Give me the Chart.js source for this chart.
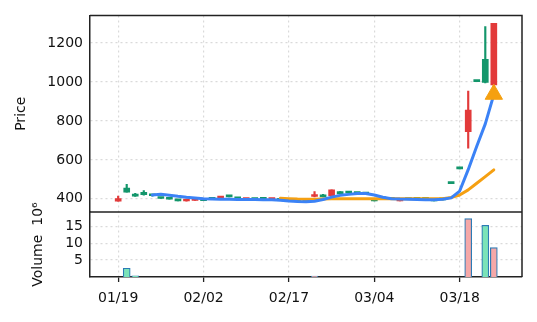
<!DOCTYPE html>
<html>
<head>
<meta charset="utf-8">
<script src="https://cdn.jsdelivr.net/npm/chart.js@4.4.1/dist/chart.umd.min.js"></script>
<style>
  html, body { margin: 0; padding: 0; background: #fff; }
  #wrap { width: 537px; height: 322px; }
</style>
</head>
<body>
<div id="wrap"><canvas id="myChart" width="537" height="322"></canvas></div>
<script>
/////////////////////////////////////////////////////////////
//Data
/////////////////////////////////////////////////////////////
const dates = ['01/19', '01/20', '01/21', '01/22', '01/25', '01/26', '01/27', '01/28', '01/29', '02/01',
    '02/02', '02/03', '02/04', '02/05', '02/08', '02/09', '02/10', '02/11', '02/12', '02/16',
    '02/17', '02/18', '02/19', '02/23', '02/24', '02/25', '02/26', '03/01', '03/02', '03/03',
    '03/04', '03/05', '03/08', '03/09', '03/10', '03/11', '03/12', '03/15', '03/16', '03/17',
    '03/18', '03/19', '03/22', '03/23', '03/24']
const tickDates = ['01/19', '02/02', '02/17', '03/04', '03/18']

const openP = [402, 434, 414, 421, 416, 402, 398, 390, 393, 396,
    391, 398, 408, 410, 400, 398, 396, 397, 399, 392,
    388, 386, 384, 414, 410, 446, 425, 430, 427, 425,
    390, 400, 398, 392, 396, 398, 397, 390, 395, 478,
    554, 856, 1002, 998, 1301]
const highP = [414, 475, 429, 442, 420, 408, 402, 395, 393, 396,
    394, 398, 408, 415, 401, 398, 398, 397, 399, 394,
    388, 386, 386, 437, 423, 446, 437, 433, 427, 425,
    391, 400, 398, 392, 396, 398, 397, 391, 395, 478,
    554, 954, 1002, 1284, 1301]
const lowP = [388, 434, 413, 419, 414, 402, 398, 390, 388, 392,
    391, 398, 404, 410, 400, 396, 396, 397, 396, 392,
    388, 386, 384, 410, 410, 417, 425, 430, 427, 425,
    390, 400, 398, 389, 396, 398, 397, 390, 395, 478,
    554, 660, 1002, 995, 975]
const closeP = [388, 455, 424, 434, 419, 406, 401, 393, 389, 392,
    393, 398, 404, 414, 401, 396, 398, 397, 396, 394,
    388, 386, 386, 412, 417, 417, 437, 432, 427, 425,
    391, 400, 398, 389, 396, 398, 397, 391, 395, 478,
    554, 745, 1002, 1116, 985]
// volume in millions
const volume = [0, 2.6, 0.35, 0, 0, 0, 0, 0, 0, 0,
    0, 0, 0, 0, 0, 0, 0, 0, 0, 0,
    0, 0, 0, 0.3, 0, 0, 0, 0, 0, 0,
    0, 0, 0, 0, 0, 0, 0, 0, 0, 0,
    0, 17.3, 0, 15.3, 8.7]
const ma5 = [null, null, null, null, 420, 424, 419, 413, 408, 404,
    400, 399, 398, 398, 397, 397, 397, 396, 395, 393,
    389, 386, 385, 388, 397, 409, 418, 423, 427, 428,
    420, 408, 401, 399, 398, 397, 396, 396, 398, 405,
    440, 550, 670, 785, 935]
const ma20 = [null, null, null, null, null, null, null, null, null, null,
    null, null, null, null, null, null, null, null, null, 403,
    401, 399, 398, 398, 399, 400, 400, 400, 400, 400,
    400, 400, 400, 400, 400, 400, 400, 400, 401, 407,
    420, 446, 480, 514, 549]
const signal = [null, null, null, null, null, null, null, null, null, null,
    null, null, null, null, null, null, null, null, null, null,
    null, null, null, null, null, null, null, null, null, null,
    null, null, null, null, null, null, null, null, null, null,
    null, null, null, null, 937]

const priceTicks = [400, 600, 800, 1000, 1200]
const volTicks = [5, 10, 15]

/////////////////////////////////////////////////////////////
//Colors
/////////////////////////////////////////////////////////////
const isUp = closeP.map((c, i) => c >= openP[i])
const candleColors = isUp.map(u => u ? '#13966b' : '#e23a3a')
const volFill = isUp.map(u => u ? '#7be3b8' : '#f5a8a8')

const tickFont = {family: 'DejaVu Sans', size: 14}
const gridStyle = {color: '#dadada', lineWidth: 1.2, offset: false}
const borderStyle = {color: '#222', width: 1.5, dash: [2, 3]}

// white background + axes frame and panel separator
const framePlugin = {
    id: 'frame',
    beforeDraw(chart) {
        const ctx = chart.ctx
        ctx.save()
        ctx.fillStyle = '#fff'
        ctx.fillRect(0, 0, chart.width, chart.height)
        ctx.restore()
    },
    afterDraw(chart) {
        const {ctx, chartArea: a, scales} = chart
        ctx.save()
        ctx.strokeStyle = '#222'
        ctx.lineWidth = 1.5
        ctx.beginPath()
        ctx.moveTo(a.left, a.top)
        ctx.lineTo(a.right, a.top)
        ctx.lineTo(a.right, a.bottom)
        ctx.moveTo(a.left, scales.yv.top)
        ctx.lineTo(a.right, scales.yv.top)
        ctx.stroke()
        ctx.restore()
    }
}

const config = {
    type: 'bar',
    data: {
        datasets: [
            {
                type: 'line', label: 'signal',
                data: signal.map((v, i) => ({x: i, y: v})),
                showLine: false, pointStyle: 'triangle', pointRadius: 10,
                backgroundColor: '#f5a010', borderColor: '#f5a010', borderWidth: 1,
                yAxisID: 'y', order: 0
            },
            {
                type: 'line', label: 'MA5',
                data: ma5.map((v, i) => ({x: i, y: v})),
                borderColor: '#3b82f6', borderWidth: 3, pointRadius: 0,
                borderCapStyle: 'round', borderJoinStyle: 'round',
                yAxisID: 'y', order: 0
            },
            {
                type: 'line', label: 'MA20',
                data: ma20.map((v, i) => ({x: i, y: v})),
                borderColor: '#f5a012', borderWidth: 3, pointRadius: 0,
                borderCapStyle: 'round', borderJoinStyle: 'round',
                yAxisID: 'y', order: 0
            },
            {
                label: 'body',
                data: openP.map((o, i) => ({x: i, y: [o, closeP[i]]})),
                backgroundColor: candleColors,
                barThickness: 6, minBarLength: 2, grouped: false,
                yAxisID: 'y', order: 1
            },
            {
                label: 'wick',
                data: highP.map((h, i) => ({x: i, y: [lowP[i], h]})),
                backgroundColor: candleColors,
                barThickness: 1.5, grouped: false,
                yAxisID: 'y', order: 2
            },
            {
                label: 'volume',
                data: volume.map((v, i) => ({x: i, y: v})),
                backgroundColor: volFill, borderColor: '#2b7bb5', borderWidth: 1.2,
                barThickness: 7, grouped: false,
                yAxisID: 'yv', order: 3
            }
        ]
    },
    plugins: [framePlugin],
    options: {
        responsive: false,
        animation: false,
        devicePixelRatio: 1,
        layout: {padding: {top: 15, right: 15, left: 0, bottom: 0}},
        plugins: {
            legend: {display: false},
            tooltip: {enabled: false}
        },
        scales: {
            x: {
                type: 'linear', min: -3.3, max: 47.3, offset: false,
                afterBuildTicks: (axis) => {
                    axis.ticks = tickDates.map(d => ({value: dates.indexOf(d)}))
                },
                ticks: {
                    callback: (v) => dates[v],
                    color: '#111', font: tickFont, padding: 8,
                    maxRotation: 0, autoSkip: false
                },
                grid: {...gridStyle, tickColor: '#222', tickLength: 5, tickWidth: 1.3, tickBorderDash: []},
                border: borderStyle,
                afterFit: (axis) => { axis.height = 45 }
            },
            yv: {
                type: 'linear', position: 'left', stack: 'panels', stackWeight: 65,
                min: 0, max: 19.2,
                afterBuildTicks: (axis) => {
                    axis.ticks = volTicks.map(v => ({value: v}))
                },
                ticks: {color: '#111', font: tickFont, padding: 7, autoSkip: false, callback: (v) => String(v)},
                grid: {...gridStyle, drawTicks: false},
                border: borderStyle,
                title: {
                    display: true, text: 'Volume  10\u2076', color: '#111',
                    font: tickFont, padding: {top: 29.6, bottom: 0}
                },
                afterFit: (axis) => { axis.width = 90 }
            },
            y: {
                type: 'linear', position: 'left', stack: 'panels', stackWeight: 197,
                min: 332, max: 1342,
                afterBuildTicks: (axis) => {
                    axis.ticks = priceTicks.map(v => ({value: v}))
                },
                ticks: {color: '#111', font: tickFont, padding: 7, autoSkip: false, callback: (v) => String(v)},
                grid: {...gridStyle, drawTicks: false},
                border: borderStyle,
                title: {
                    display: true, text: 'Price', color: '#111',
                    font: tickFont, padding: {top: 12.6, bottom: 0}
                },
                afterFit: (axis) => { axis.width = 90 }
            }
        }
    }
}

const myChart = new Chart(document.getElementById('myChart'), config)
</script>
</body>
</html>
